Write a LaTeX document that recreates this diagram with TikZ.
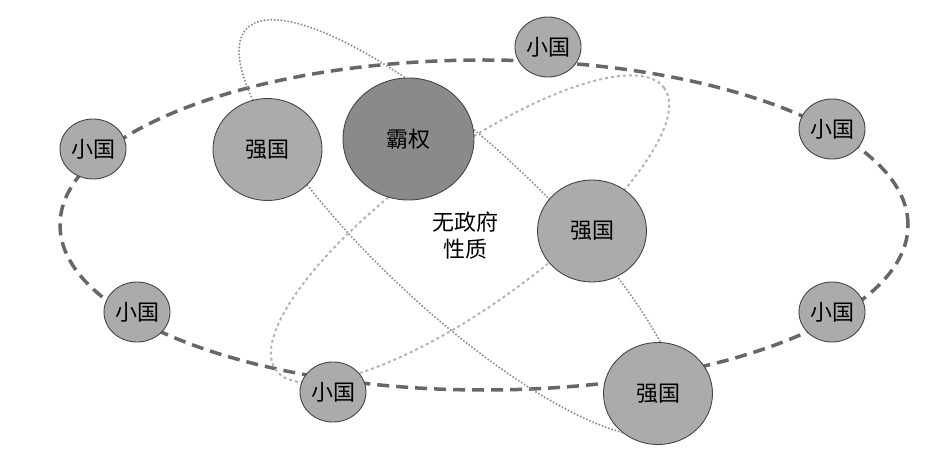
\documentclass[tikz,border=0pt]{standalone}
\usepackage{fontspec}
\newfontfamily\cjk{Noto Sans CJK SC}
\usetikzlibrary{shapes.geometric}
\definecolor{dashc}{HTML}{676767}
\definecolor{dotac}{HTML}{939393}
\definecolor{dotbc}{HTML}{B4B4B4}
\definecolor{nodefill}{HTML}{ABABAB}
\definecolor{hegfill}{HTML}{8A8A8A}
\definecolor{nodeline}{HTML}{454545}
\begin{document}
\begin{tikzpicture}[x=1pt,y=-1pt,
  bigdash/.style={draw=dashc,line width=3.5pt,dash pattern=on 12pt off 7pt},
  dota/.style={draw=dotac,line width=2.3pt,line cap=round,dash pattern=on 0pt off 3.4pt},
  dotb/.style={draw=dotbc,line width=2pt,dash pattern=on 3pt off 3pt},
  state/.style={ellipse,draw=nodeline,line width=0.9pt,fill=nodefill,inner sep=0pt,font=\cjk\fontsize{22}{26}\selectfont},
  smallstate/.style={state,minimum width=66pt,minimum height=60pt},
  power/.style={state,minimum width=109pt,minimum height=102pt},
  hegemon/.style={state,fill=hegfill,minimum width=131pt,minimum height=122pt},
  lbl/.style={font=\cjk\fontsize{22}{27}\selectfont,align=center,inner sep=0pt}]
\useasboundingbox (0,0) rectangle (945,457);
% system boundary and alliance orbits
\draw[bigdash] (484,225) ellipse [x radius=424pt, y radius=165pt];
\draw[dota, rotate around={-43:(460,228)}] (460,228) ellipse [x radius=292pt, y radius=83pt];
\draw[dotb, rotate around={36:(470,229)}] (470,229) ellipse [x radius=240pt, y radius=75pt];
% states
\node[power] (p1) at (267.5,149.5) {强国};
\node[hegemon] (h) at (408.5,139) {霸权};
\node[power] (p2) at (592,231) {强国};
\node[power] (p3) at (658,393.5) {强国};
\node[smallstate] (s1) at (93,149) {小国};
\node[smallstate] (s2) at (548,47) {小国};
\node[smallstate] (s3) at (832,129) {小国};
\node[smallstate] (s4) at (137,312) {小国};
\node[smallstate] (s5) at (832,312) {小国};
\node[smallstate] (s6) at (333,392) {小国};
\node[lbl] (t) at (465,236) {无政府\\性质};
\end{tikzpicture}
\end{document}
